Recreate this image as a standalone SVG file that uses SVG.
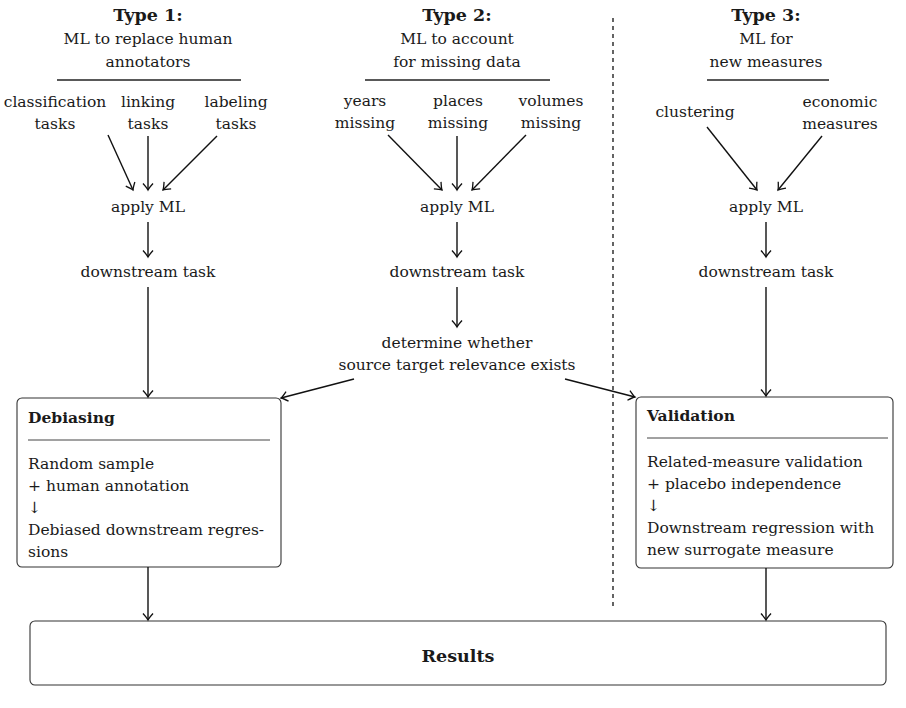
<svg xmlns="http://www.w3.org/2000/svg" width="906" height="708" viewBox="0 0 906 708">
<style>
text{font-family:"DejaVu Serif","Liberation Serif",serif;font-size:15.5px;fill:#1a1a1a}
.c{text-anchor:middle}
.b{font-weight:bold}
.h{font-size:17.5px}
.box{fill:#fff;stroke:#333;stroke-width:1.1}
.rule{stroke:#222;stroke-width:1.4}
.sep{stroke:#444;stroke-width:1}
.arr{stroke:#111;stroke-width:1.4;fill:none;marker-end:url(#ah)}
</style>
<defs>
<marker id="ah" viewBox="-8 -6 10 12" refX="0" refY="0" markerWidth="10" markerHeight="12" markerUnits="userSpaceOnUse" orient="auto">
<path d="M-6.5,-5 Q-2,-1 0,0 Q-2,1 -6.5,5" fill="none" stroke="#111" stroke-width="1.3"/>
</marker>
</defs>
<rect width="906" height="708" fill="#fff"/>

<g id="type1">
<text class="c b h" x="148" y="21">Type 1:</text>
<text class="c" x="148" y="44">ML to replace human</text>
<text class="c" x="148" y="67">annotators</text>
<line class="rule" x1="57" y1="80" x2="241" y2="80"/>
</g>
<g id="t1-classification"><text class="c" x="55" y="107">classification</text><text class="c" x="55" y="129">tasks</text></g>
<g id="t1-linking"><text class="c" x="148" y="107">linking</text><text class="c" x="148" y="129">tasks</text></g>
<g id="t1-labeling"><text class="c" x="236" y="107">labeling</text><text class="c" x="236" y="129">tasks</text></g>
<g id="t1-apply"><text class="c" x="148" y="212">apply ML</text></g>
<g id="t1-downstream"><text class="c" x="148" y="277">downstream task</text></g>

<g id="type2">
<text class="c b h" x="457" y="21">Type 2:</text>
<text class="c" x="457" y="44">ML to account</text>
<text class="c" x="457" y="67">for missing data</text>
<line class="rule" x1="365" y1="80" x2="550" y2="80"/>
</g>
<g id="t2-years"><text class="c" x="365" y="106">years</text><text class="c" x="365" y="128">missing</text></g>
<g id="t2-places"><text class="c" x="458" y="106">places</text><text class="c" x="458" y="128">missing</text></g>
<g id="t2-volumes"><text class="c" x="551" y="106">volumes</text><text class="c" x="551" y="128">missing</text></g>
<g id="t2-apply"><text class="c" x="457" y="212">apply ML</text></g>
<g id="t2-downstream"><text class="c" x="457" y="277">downstream task</text></g>
<g id="t2-determine"><text class="c" x="457" y="348">determine whether</text><text class="c" x="457" y="370">source target relevance exists</text></g>

<g id="type3">
<text class="c b h" x="766" y="21">Type 3:</text>
<text class="c" x="766" y="44">ML for</text>
<text class="c" x="766" y="67">new measures</text>
<line class="rule" x1="707" y1="80" x2="829" y2="80"/>
</g>
<g id="t3-clustering"><text class="c" x="695" y="117">clustering</text></g>
<g id="t3-economic"><text class="c" x="840" y="107">economic</text><text class="c" x="840" y="129">measures</text></g>
<g id="t3-apply"><text class="c" x="766" y="212">apply ML</text></g>
<g id="t3-downstream"><text class="c" x="766" y="277">downstream task</text></g>

<g id="debiasing">
<rect class="box" x="17" y="398" width="264" height="169" rx="5"/>
<text class="b" x="28" y="423">Debiasing</text>
<line class="sep" x1="28" y1="440" x2="270" y2="440"/>
<text x="28" y="469">Random sample</text>
<text x="28" y="491">+ human annotation</text>
<text x="28" y="513">↓</text>
<text x="28" y="535">Debiased downstream regres-</text>
<text x="28" y="557">sions</text>
</g>

<g id="validation">
<rect class="box" x="636" y="397" width="257" height="171" rx="5"/>
<text class="b" x="647" y="421">Validation</text>
<line class="sep" x1="647" y1="438" x2="888" y2="438"/>
<text x="647" y="467">Related-measure validation</text>
<text x="647" y="489">+ placebo independence</text>
<text x="647" y="511">↓</text>
<text x="647" y="533">Downstream regression with</text>
<text x="647" y="555">new surrogate measure</text>
</g>

<g id="results">
<rect class="box" x="30" y="621" width="856" height="64" rx="5"/>
<text class="c b h" x="458" y="662">Results</text>
</g>

<g id="divider">
<line x1="613" y1="18" x2="613" y2="606" stroke="#111" stroke-width="1.3" stroke-dasharray="4,4"/>
</g>

<g id="connectors">
<line class="arr" x1="108" y1="135" x2="133" y2="190"/>
<line class="arr" x1="148" y1="136" x2="148" y2="190"/>
<line class="arr" x1="217" y1="136" x2="163" y2="190"/>
<line class="arr" x1="148" y1="222" x2="148" y2="257"/>
<line class="arr" x1="148" y1="287" x2="148" y2="397"/>
<line class="arr" x1="148" y1="567" x2="148" y2="620"/>

<line class="arr" x1="388" y1="135" x2="442" y2="190"/>
<line class="arr" x1="457" y1="136" x2="457" y2="190"/>
<line class="arr" x1="526" y1="135" x2="472" y2="190"/>
<line class="arr" x1="457" y1="222" x2="457" y2="257"/>
<line class="arr" x1="457" y1="287" x2="457" y2="327"/>
<line class="arr" x1="354" y1="379" x2="281" y2="398"/>
<line class="arr" x1="565" y1="379" x2="635" y2="397"/>

<line class="arr" x1="707" y1="127" x2="757" y2="190"/>
<line class="arr" x1="822" y1="136" x2="778" y2="190"/>
<line class="arr" x1="766" y1="222" x2="766" y2="257"/>
<line class="arr" x1="766" y1="287" x2="766" y2="396"/>
<line class="arr" x1="766" y1="568" x2="766" y2="620"/>
</g>
</svg>
